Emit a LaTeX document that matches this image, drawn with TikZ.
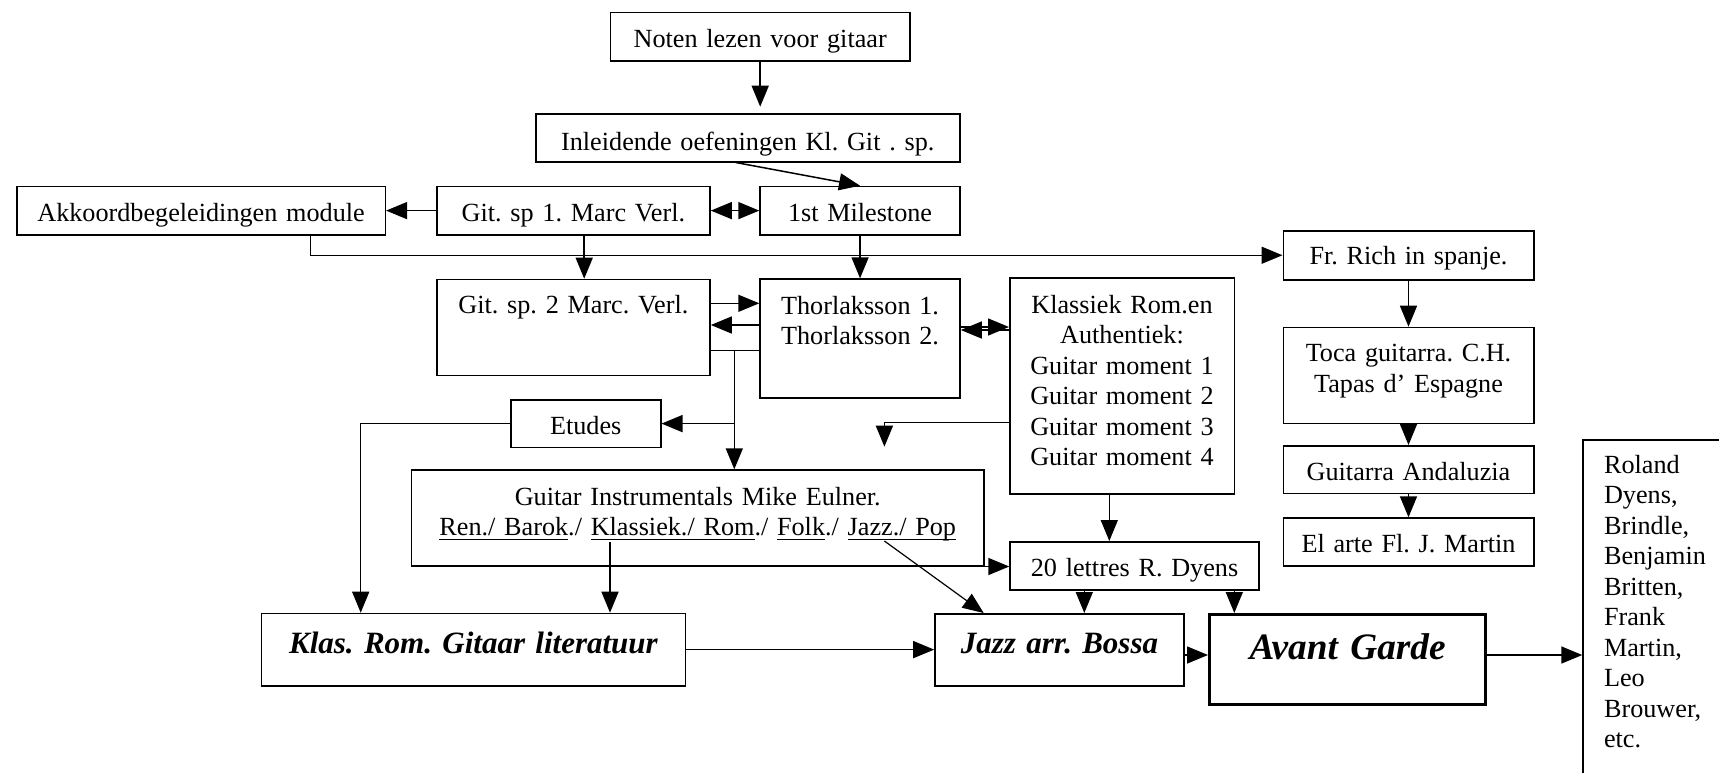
\documentclass[tikz,border=0pt]{standalone}
\usepackage{fontspec}
\setmainfont{Liberation Serif}
\usetikzlibrary{arrows.meta}
\frenchspacing
\newcommand\fsn{\fontsize{26.2pt}{30.5pt}\selectfont}
\newcommand\fsbi{\fontsize{31pt}{36pt}\selectfont\bfseries\itshape}
\newcommand\fsav{\fontsize{37.3pt}{43pt}\selectfont\bfseries\itshape}
\newcommand\ulx[1]{\leavevmode\setbox0=\hbox{#1}\rlap{\rule[-4.9pt]{\wd0}{1.3pt}}\box0}
\begin{document}
\begin{tikzpicture}[x=1pt,y=-1pt,
  bx/.style={draw, line width=1.5pt, inner sep=0pt, align=center, anchor=north west, font=\fsn},
  ln/.style={line width=1.5pt},
  arr/.style={line width=1.5pt, -{Triangle[length=21pt,width=17pt]}},
  darr/.style={line width=1.5pt, {Triangle[length=21pt,width=17pt]}-{Triangle[length=21pt,width=17pt]}}]
\useasboundingbox (0,0) rectangle (1719,772);
\clip (0,0) rectangle (1719,772);

% boxes
\node[bx, text width=299.7pt, text height=34.8pt, text depth=13.5pt] (noten) at (609.6,11.7) {Noten lezen voor gitaar};
\node[bx, text width=424pt, text height=36.7pt, text depth=11pt] (inl) at (535,113.3) {Inleidende oefeningen Kl. Git . sp.};
\node[bx, text width=368.6pt, text height=34.8pt, text depth=13.5pt] (akk) at (16,185.7) {Akkoordbegeleidingen module};
\node[bx, text width=273.3pt, text height=34.8pt, text depth=13.5pt] (gsp1) at (436,185.7) {Git. sp 1. Marc Verl.};
\node[bx, text width=200pt, text height=34.8pt, text depth=13.5pt] (mile) at (759.3,185.7) {1st Milestone};
\node[bx, text width=250.5pt, text height=34pt, text depth=15pt] (frrich) at (1282.5,230) {Fr. Rich in spanje.};
\node[bx, text width=273.3pt, text height=33.6pt, text depth=62.4pt] (gsp2) at (436,278.7) {Git. sp. 2 Marc. Verl.};
\node[bx, text width=200pt, text height=35pt, text depth=84pt] (thor) at (759.3,278.3) {Thorlaksson 1.\\Thorlaksson 2.};
\node[bx, text width=224.5pt, text height=35pt, text depth=181pt] (klas) at (1009,277.3) {Klassiek Rom.en\\Authentiek:\\Guitar moment 1\\Guitar moment 2\\Guitar moment 3\\Guitar moment 4};
\node[bx, text width=250.5pt, text height=34.3pt, text depth=61.7pt] (toca) at (1282.5,326.7) {Toca guitarra. C.H.\\Tapas d’ Espagne};
\node[bx, text width=150pt, text height=34.3pt, text depth=13.4pt] (etudes) at (510,399) {Etudes};
\node[bx, text width=572.6pt, text height=35pt, text depth=60.7pt] (gi) at (410.7,469.3) {Guitar Instrumentals Mike Eulner.\\\ulx{Ren./ Barok}./ \ulx{Klassiek./ Rom}./ \ulx{Folk}./ \ulx{Jazz./ Pop}};
\node[bx, text width=250.5pt, text height=34.3pt, text depth=13.4pt] (anda) at (1282.5,445) {Guitarra Andaluzia};
\node[bx, text width=250.5pt, text height=34.4pt, text depth=13.3pt] (elarte) at (1282.5,517.3) {El arte Fl. J. Martin};
\node[bx, text width=249pt, text height=34.7pt, text depth=13.6pt] (lettres) at (1009.3,541) {20 lettres R. Dyens};
\node[bx, font=\fsbi, text width=424.2pt, text height=40pt, text depth=32.3pt] (klasrom) at (260.6,612.7) {Klas. Rom. Gitaar literatuur};
\node[bx, font=\fsbi, text width=249.1pt, text height=39.7pt, text depth=32.3pt] (jazz) at (934.2,613) {Jazz arr. Bossa};
\node[bx, font=\fsav, line width=3.2pt, text width=276pt, text height=45.3pt, text depth=44.7pt] (avant) at (1208,613) {Avant Garde};
\node[bx, align=left, inner xsep=21pt, text width=180pt, text height=33.7pt, text depth=330pt] (roland) at (1582.3,439) {Roland\\Dyens,\\Brindle,\\Benjamin\\Britten,\\Frank\\Martin,\\Leo\\Brouwer,\\etc.};

% helper coordinates
\coordinate (yA) at (0,303.3);
\coordinate (yB) at (0,325);
\coordinate (yC) at (0,350.7);
\coordinate (yD) at (0,327);
\coordinate (yE) at (0,330);
\coordinate (yF) at (0,422.7);
\coordinate (yG) at (0,655);
\coordinate (xV) at (734.3,0);
\coordinate (xL) at (360.7,0);
\coordinate (xA) at (310.5,0);
\coordinate (xG) at (584.2,0);
\coordinate (xK) at (1109.3,0);
\coordinate (xJ) at (1084.3,0);
\coordinate (xAv) at (1234.3,0);
\coordinate (dang) at (884.4,446.7);
\coordinate (gik) at (610,542.3);
\coordinate (gij) at (884.4,541);

% connectors
\draw[arr, shorten >=6.6pt] (noten.south) -- (noten.south |- inl.north);
\draw[arr] ([xshift=-12pt]inl.south) -- (mile.north);
\draw[arr] (gsp1.west) -- (akk.east);
\draw[darr] (gsp1.east) -- (mile.west);
\draw[arr] (xA |- akk.south) |- (frrich.west);
\draw[arr] (xG |- gsp1.south) -- (xG |- gsp2.north);
\draw[arr] (mile.south) -- (thor.north);
\draw[arr] (gsp2.east |- yA) -- (thor.west |- yA);
\draw[arr] (thor.west |- yB) -- (gsp2.east |- yB);
\draw[ln] (gsp2.east |- yC) -- (thor.west |- yC);
\draw[arr] (xV |- yC) -- (xV |- gi.north);
\draw[arr] (xV |- etudes.east) -- (etudes.east);
\draw[arr] (thor.east |- yD) -- (klas.west |- yD);
\draw[arr] (klas.west |- yE) -- (thor.east |- yE);
\draw[arr] (klas.west |- yF) -| (dang);
\draw[arr] (etudes.west) -| (xL |- klasrom.north);
\draw[arr] (gik) -- (gik |- klasrom.north);
\draw[arr] (gi.south east) -- (gi.south east -| lettres.west);
\draw[arr, line width=1.2pt] (gij) -- ([xshift=-75.8pt]jazz.north);
\draw[arr] (xK |- klas.south) -- (xK |- lettres.north);
\draw[arr] (xJ |- lettres.south) -- (xJ |- jazz.north);
\draw[arr] (xAv |- lettres.south) -- (xAv |- avant.north);
\draw[arr] (klasrom.east) -- (klasrom.east -| jazz.west);
\draw[arr] (jazz.east |- yG) -- (avant.west |- yG);
\draw[arr] (avant.east |- yG) -- (roland.west |- yG);
\draw[arr] (frrich.south) -- (toca.north);
\draw[arr] (toca.south) -- (anda.north);
\draw[arr] (anda.south) -- (elarte.north);
\end{tikzpicture}
\end{document}
